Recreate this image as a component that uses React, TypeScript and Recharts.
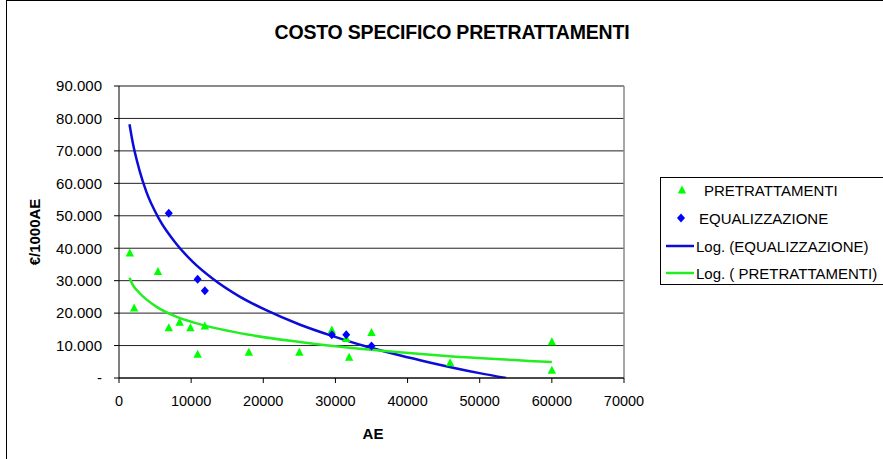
import React from "react";
import {
  ComposedChart,
  Scatter,
  Line,
  XAxis,
  YAxis,
  CartesianGrid,
  ReferenceLine,
} from "recharts";

// PRETRATTAMENTI (green triangles)
const PRE_X = [1500, 2100, 5400, 6900, 8400, 9900, 10900, 11900, 18000, 25000, 29500, 31500, 31900, 35000, 45900, 60000, 60000];
const PRE_Y = [38500, 21600, 32800, 15500, 17200, 15500, 7300, 16000, 7900, 7900, 14800, 12200, 6400, 14000, 4700, 11200, 2400];

// EQUALIZZAZIONE (blue diamonds)
const EQ_X = [6900, 10900, 11900, 29500, 31500, 35000];
const EQ_Y = [50800, 30400, 26900, 13300, 13300, 9900];

// Log. (EQUALIZZAZIONE) trend line
const LOG_EQ_X = [1455, 1910, 2840, 3770, 5610, 7930, 10230, 13000, 16730, 20400, 25020, 29640, 34270, 38880, 43040, 49970, 53670];
const LOG_EQ_Y = [78200, 72500, 64000, 57500, 48800, 41400, 35800, 30600, 25100, 20900, 16500, 12900, 9700, 7000, 4800, 1500, 0];

// Log. ( PRETRATTAMENTI) trend line
const LOG_PRE_X = [1455, 1910, 2840, 5160, 7930, 11160, 18090, 25020, 31950, 38880, 45360, 60000];
const LOG_PRE_Y = [30900, 28700, 26200, 22000, 18900, 16600, 13300, 11100, 9300, 7900, 6800, 4900];

const X_TICKS = [0, 10000, 20000, 30000, 40000, 50000, 60000, 70000];
const Y_TICKS = [0, 10000, 20000, 30000, 40000, 50000, 60000, 70000, 80000, 90000];

const TITLE = "COSTO SPECIFICO PRETRATTAMENTI";
const X_LABEL = "AE";
const Y_LABEL = "€/1000AE";
const LEGEND_PRE = "PRETRATTAMENTI";
const LEGEND_EQ = "EQUALIZZAZIONE";
const LEGEND_LOG_EQ = "Log. (EQUALIZZAZIONE)";
const LEGEND_LOG_PRE = "Log. ( PRETRATTAMENTI)";

const GREEN = "#00ff00";
const GREEN_LINE = "#22ee22";
const BLUE = "#0000ff";
const BLUE_LINE = "#0c0cd8";

const pre = PRE_X.map((x, i) => ({ x, y: PRE_Y[i] }));
const eq = EQ_X.map((x, i) => ({ x, y: EQ_Y[i] }));
const logEq = LOG_EQ_X.map((x, i) => ({ x, y: LOG_EQ_Y[i] }));
const logPre = LOG_PRE_X.map((x, i) => ({ x, y: LOG_PRE_Y[i] }));

const FONT = "'Liberation Sans', Arial, sans-serif";

const fmtY = (v: number) =>
  v === 0 ? "-" : String(v).replace(/\B(?=(\d{3})+(?!\d))/g, ".");

const Triangle = (props: any) => {
  const { cx, cy } = props;
  if (cx == null || cy == null) return null;
  return (
    <polygon
      points={`${cx},${cy - 4.5} ${cx + 4.2},${cy + 3.5} ${cx - 4.2},${cy + 3.5}`}
      fill={GREEN}
    />
  );
};

const Diamond = (props: any) => {
  const { cx, cy } = props;
  if (cx == null || cy == null) return null;
  return (
    <polygon
      points={`${cx},${cy - 4.5} ${cx + 4},${cy} ${cx},${cy + 4.5} ${cx - 4},${cy}`}
      fill={BLUE}
    />
  );
};

export default function App() {
  return (
    <div
      style={{
        position: "relative",
        width: 883,
        height: 459,
        overflow: "hidden",
        background: "#fff",
        fontFamily: FONT,
      }}
    >
      <style>{"body{margin:0;}"}</style>
      <div
        style={{
          position: "absolute",
          left: 6,
          top: 0,
          width: 950,
          height: 520,
          border: "1.5px solid #000",
          boxSizing: "border-box",
        }}
      />
      <div
        style={{
          position: "absolute",
          left: 252,
          width: 400,
          top: 21,
          textAlign: "center",
          fontWeight: "bold",
          fontSize: 19.5,
          lineHeight: "22px",
          letterSpacing: -0.2,
          color: "#000",
        }}
      >
        {TITLE}
      </div>
      <div style={{ position: "absolute", left: 0, top: 0 }}>
        <ComposedChart
          width={883}
          height={459}
          margin={{ top: 86, right: 259, bottom: 0, left: 0 }}
        >
          <CartesianGrid horizontal={true} vertical={false} stroke="#222" strokeWidth={1} />
          <XAxis
            type="number"
            dataKey="x"
            domain={[0, 70000]}
            ticks={X_TICKS}
            interval={0}
            height={81}
            tickSize={5}
            tickMargin={13}
            stroke="#000"
            tick={{ fill: "#000", fontSize: 14.5, fontFamily: FONT }}
            allowDataOverflow
          />
          <YAxis
            type="number"
            dataKey="y"
            domain={[0, 90000]}
            ticks={Y_TICKS}
            interval={0}
            width={119}
            tickSize={5}
            tickMargin={12}
            stroke="#000"
            tickFormatter={fmtY}
            tick={{ fill: "#000", fontSize: 15, fontFamily: FONT }}
            allowDataOverflow
          />
          <ReferenceLine y={90000} stroke="#8a8a8a" strokeWidth={1.5} />
          <ReferenceLine x={70000} stroke="#8a8a8a" strokeWidth={1.5} />
          <Line
            data={logEq}
            dataKey="y"
            type="monotone"
            stroke={BLUE_LINE}
            strokeWidth={2.5}
            dot={false}
            activeDot={false}
            isAnimationActive={false}
          />
          <Line
            data={logPre}
            dataKey="y"
            type="monotone"
            stroke={GREEN_LINE}
            strokeWidth={2.5}
            dot={false}
            activeDot={false}
            isAnimationActive={false}
          />
          <Scatter data={pre} dataKey="y" shape={<Triangle />} isAnimationActive={false} />
          <Scatter data={eq} dataKey="y" shape={<Diamond />} isAnimationActive={false} />
        </ComposedChart>
      </div>
      <div
        style={{
          position: "absolute",
          left: 34,
          top: 232,
          transform: "translate(-50%, -50%) rotate(-90deg)",
          fontWeight: "bold",
          fontSize: 15,
          whiteSpace: "nowrap",
          color: "#000",
        }}
      >
        {Y_LABEL}
      </div>
      <div
        style={{
          position: "absolute",
          left: 373,
          top: 433,
          transform: "translate(-50%, -50%)",
          fontWeight: "bold",
          fontSize: 15,
          color: "#000",
        }}
      >
        {X_LABEL}
      </div>
      {/* Legend */}
      <div
        style={{
          position: "absolute",
          left: 660,
          top: 177,
          width: 260,
          height: 108,
          border: "1px solid #000",
          boxSizing: "border-box",
        }}
      />
      <svg
        style={{ position: "absolute", left: 0, top: 0 }}
        width={883}
        height={459}
      >
        <polygon points="682,185.5 686.2,193.5 677.8,193.5" fill={GREEN} />
        <polygon points="681,213.5 685,218 681,222.5 677,218" fill={BLUE} />
        <line x1={666} y1={246} x2={694} y2={246} stroke={BLUE_LINE} strokeWidth={2.5} />
        <line x1={666} y1={273} x2={694} y2={273} stroke={GREEN_LINE} strokeWidth={2.5} />
        <g fontFamily={FONT} fontSize={15} fill="#000">
          <text x={704} y={190} dominantBaseline="central">{LEGEND_PRE}</text>
          <text x={699} y={218} dominantBaseline="central">{LEGEND_EQ}</text>
          <text x={696} y={246} dominantBaseline="central">{LEGEND_LOG_EQ}</text>
          <text x={696} y={273} dominantBaseline="central">{LEGEND_LOG_PRE}</text>
        </g>
      </svg>
    </div>
  );
}
